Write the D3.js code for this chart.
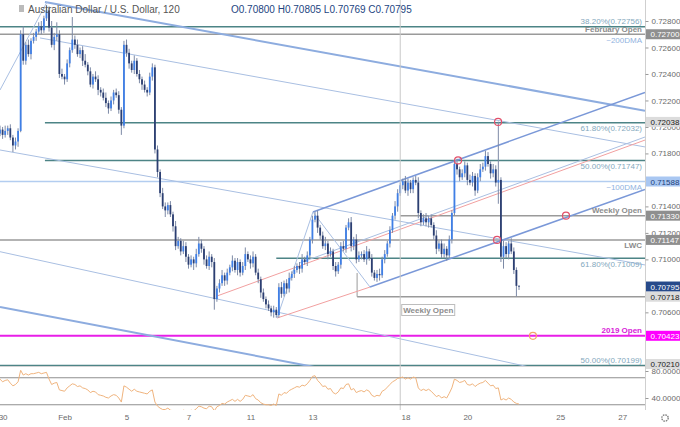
<!DOCTYPE html>
<html>
<head>
<meta charset="utf-8">
<script src="https://d3js.org/d3.v7.min.js"></script>
<style>
    body { margin: 0; background: #fff; }
    svg text { font-family: "Liberation Sans", Arial, sans-serif; }
</style>
</head>
<body>
<svg id="chart" width="680" height="427"></svg>
<script>

    // 2h closes in pips (0.0001), bar 0 = Jan 29 22:00
    var firstOpen = 7195;
    var closes = [
        7198, 7194, 7197, 7199, 7192, 7186, 7189, 7197, 7270, 7250,
        7262, 7255, 7265, 7268, 7272, 7276, 7273, 7282, 7288, 7275,
        7262, 7268, 7270, 7240, 7238, 7236, 7248, 7258, 7266, 7262,
        7255, 7258, 7250, 7247, 7242, 7232, 7238, 7236, 7228, 7226,
        7222, 7218, 7214, 7220, 7226, 7224, 7213, 7201, 7262, 7256,
        7248, 7243, 7250, 7240, 7236, 7232, 7228, 7226, 7238, 7245,
        7183, 7166, 7150, 7140, 7137, 7141, 7134, 7125, 7110, 7114,
        7106, 7110, 7102, 7096, 7100, 7097, 7104, 7112, 7108, 7100,
        7095, 7102, 7098, 7070, 7078, 7082, 7088, 7084, 7090, 7094,
        7099, 7092, 7098, 7090, 7095, 7104, 7100, 7097, 7102, 7090,
        7085, 7075, 7070, 7066, 7063, 7060, 7062, 7058, 7079, 7074,
        7082, 7078, 7086, 7089, 7092, 7095, 7093, 7100, 7098, 7103,
        7115, 7130, 7133, 7124, 7118, 7110, 7112, 7104, 7106, 7095,
        7091, 7096, 7110, 7108, 7124, 7128, 7110, 7115, 7100, 7103,
        7104, 7100, 7106, 7101, 7090, 7086, 7089, 7088, 7100, 7104,
        7112, 7122, 7133, 7140, 7150, 7156, 7159, 7152, 7158, 7153,
        7160, 7158, 7135, 7128, 7131, 7128, 7131, 7126, 7118, 7108,
        7112, 7104, 7108, 7103, 7115, 7135, 7172, 7168, 7162, 7165,
        7171, 7160, 7158, 7163, 7152, 7162, 7168, 7170, 7178, 7172,
        7165, 7168, 7158, 7160, 7102, 7110, 7104, 7112, 7106, 7092,
        7080, 7079.5
    ];
    // wick length above / below the body, pips
    var wickUp = [
        3, 2, 4, 2, 3, 2, 3, 2, 3, 6,   2, 4, 2, 3, 2, 3, 4, 2, 4, 3,
        5, 3, 9, 3, 4, 2, 3, 2, 17, 3,  4, 2, 3, 5, 2, 3, 2, 4, 3, 2,
        3, 4, 2, 3, 2, 3, 3, 2, 3, 4,   3, 2, 4, 2, 3, 2, 3, 2, 3, 3,
        2, 3, 2, 4, 3, 2, 3, 2, 4, 3,   2, 4, 3, 2, 3, 2, 4, 5, 3, 2,
        3, 4, 2, 3, 2, 3, 4, 2, 3, 2,   4, 2, 3, 2, 3, 5, 2, 3, 4, 2,
        3, 2, 3, 2, 3, 2, 3, 2, 3, 4,   2, 3, 4, 2, 3, 2, 3, 4, 2, 3,
        2, 3, 3, 4, 2, 3, 5, 2, 3, 2,   3, 2, 3, 4, 2, 3, 4, 2, 4, 3,
        2, 3, 4, 2, 3, 2, 3, 4, 2, 3,   2, 3, 2, 4, 3, 2, 2, 4, 3, 2,
        2, 3, 4, 2, 3, 4, 2, 3, 2, 4,   2, 3, 4, 2, 3, 2, 3, 4, 2, 3,
        3, 2, 4, 3, 2, 3, 4, 3, 4, 3,   2, 4, 3, 44, 2, 4, 3, 2, 4, 3,
        2, 0.5
    ];
    var wickDn = [
        2, 3, 2, 3, 2, 5, 3, 4, 1, 3,   3, 2, 4, 2, 3, 2, 3, 2, 2, 3,
        2, 4, 3, 3, 2, 4, 2, 3, 2, 3,   2, 3, 4, 2, 3, 2, 3, 2, 4, 3,
        2, 3, 4, 2, 3, 2, 3, 7, 2, 3,   4, 2, 3, 2, 3, 4, 2, 3, 2, 3,
        3, 4, 3, 2, 5, 3, 2, 4, 3, 2,   3, 2, 4, 3, 2, 5, 3, 2, 3, 4,
        2, 3, 4, 8, 2, 3, 2, 4, 3, 2,   3, 2, 4, 3, 2, 3, 2, 4, 3, 2,
        3, 4, 2, 3, 2, 3, 4, 2, 2, 3,   2, 4, 3, 2, 3, 2, 4, 3, 2, 3,
        2, 3, 2, 4, 3, 2, 3, 4, 2, 3,   4, 2, 3, 2, 3, 2, 4, 3, 3, 2,
        3, 2, 4, 2, 3, 2, 3, 4, 2, 3,   2, 3, 2, 3, 4, 2, 3, 2, 4, 3,
        3, 2, 4, 3, 2, 3, 4, 2, 3, 4,   2, 3, 3, 4, 2, 3, 2, 4, 3, 2,
        3, 4, 2, 3, 4, 2, 3, 2, 3, 2,   4, 3, 3, 16, 4, 9, 3, 4, 2, 3,
        8, 2.6
    ];
    var rsi = [
        68, 64, 66, 67, 62, 58, 60, 64, 81, 74,
        76, 74, 76, 76, 77, 78, 76, 77, 78, 68,
        60, 62, 63, 52, 51, 50, 55, 58, 61, 60,
        57, 58, 55, 54, 52, 48, 50, 49, 45, 44,
        43, 41, 40, 43, 45, 44, 40, 34, 58, 56,
        53, 50, 53, 50, 49, 48, 47, 46, 50, 52,
        34, 28, 25, 23, 23, 25, 22, 21, 19, 21,
        20, 22, 21, 20, 22, 21, 24, 28, 27, 25,
        24, 28, 27, 21, 27, 29, 32, 31, 34, 36,
        38, 35, 38, 35, 38, 44, 43, 42, 45, 39,
        37, 33, 31, 30, 30, 29, 31, 29, 46, 44,
        48, 47, 51, 53, 55, 57, 56, 59, 58, 61,
        66, 72, 73, 66, 62, 57, 58, 53, 54, 48,
        46, 49, 55, 54, 60, 61, 52, 54, 48, 50,
        51, 49, 52, 50, 44, 42, 44, 43, 50, 52,
        56, 60, 64, 66, 69, 70, 71, 68, 70, 68,
        71, 70, 55, 51, 53, 51, 53, 50, 46, 42,
        44, 40, 42, 40, 47, 55, 68, 66, 63, 64,
        66, 60, 59, 61, 57, 60, 62, 63, 66, 62,
        58, 59, 54, 55, 37, 39, 37, 40, 38, 34,
        32, 31
    ];

    var dayBars = [1, 25, 49, 73, 97, 121, 157, 181, 217, 241];
    var dayLabels = ["30", "Feb", "5", "7", "11", "13", "18", "20", "25", "27"];
    var priceTicks = [0.728, 0.726, 0.724, 0.722, 0.720, 0.718, 0.714, 0.712, 0.710, 0.706];
    var rsiTicks = [80, 40];
    var rsiBands = [70, 30];
    var weekStartBar = 155;

    // horizontal levels: price, text, kind, first bar, label side
    var levels = [
        {price: 0.72756, text: "38.20%(0.72756)", kind: "fib", from: 0, side: "above"},
        {price: 0.72700, text: "February Open", kind: "open", from: 0, side: "above"},
        {price: 0.72700, text: "~200DMA", kind: "dma", from: null, side: "below"},
        {price: 0.72032, text: "61.80%(0.72032)", kind: "fib", from: 17.4, side: "below"},
        {price: 0.71747, text: "50.00%(0.71747)", kind: "fib", from: 17.4, side: "below"},
        {price: 0.71588, text: "~100DMA", kind: "dma", from: 0, side: "below"},
        {price: 0.71330, text: "Weekly Open", kind: "open", from: weekStartBar, side: "above"},
        {price: 0.71147, text: "LWC", kind: "open", from: 0, side: "below"},
        {price: 0.71009, text: "61.80%(0.71009)", kind: "fib", from: 107, side: "below"},
        {price: 0.70718, text: "", kind: "open", from: 138.3, side: "above"},
        {price: 0.70423, text: "2019 Open", kind: "year", from: 0, side: "above"},
        {price: 0.70199, text: "50.00%(0.70199)", kind: "fib", from: 0, side: "above"}
    ];
    var axisTags = [
        {price: 0.72700, text: "0.72700", kind: "gray"},
        {price: 0.72038, text: "0.72038", kind: "light"},
        {price: 0.71588, text: "0.71588", kind: "dma"},
        {price: 0.71330, text: "0.71330", kind: "gray"},
        {price: 0.71147, text: "0.71147", kind: "gray"},
        {price: 0.70795, text: "0.70795", kind: "last"},
        {price: 0.70718, text: "0.70718", kind: "light"},
        {price: 0.70423, text: "0.70423", kind: "year"},
        {price: 0.70210, text: "0.70210", kind: "light"}
    ];
    // drawn trend lines, [bar, price] end points
    var trendLines = [
        {a: [17.4, 0.72943], b: [249.8, 0.72123], kind: "thick"},
        {a: [15.5, 0.72672], b: [249.8, 0.71849], kind: "thin"},
        {a: [0, 0.71826], b: [249.8, 0.70958], kind: "thin"},
        {a: [0, 0.70640], b: [127.8, 0.70165], kind: "thick"},
        {a: [0, 0.71058], b: [213.8, 0.70150], kind: "thin"},
        {a: [0, 0.72279], b: [18.2, 0.72943], kind: "thin"},
        {a: [121.2, 0.71358], b: [249.8, 0.72260], kind: "fork"},
        {a: [143.3, 0.70791], b: [249.8, 0.71528], kind: "fork"},
        {a: [107.3, 0.70557], b: [143.3, 0.70791], kind: "red"},
        {a: [84.0, 0.70723], b: [249.8, 0.71901], kind: "red"},
        {a: [116.2, 0.70974], b: [249.8, 0.71924], kind: "thin"},
        {a: [107.3, 0.70557], b: [121.2, 0.71358], kind: "thin"},
        {a: [121.2, 0.71358], b: [143.3, 0.70791], kind: "thin"}
    ];
    var markers = [
        {bar: 177.4, price: 0.71747, kind: "red"},
        {bar: 192.9, price: 0.72038, kind: "red"},
        {bar: 192.5, price: 0.71147, kind: "red"},
        {bar: 219.2, price: 0.71330, kind: "red"},
        {bar: 206.4, price: 0.70423, kind: "orange"}
    ];

    var svg = d3.select("#chart"),
        plotR = 645, mainB = 366, rsiT = 367, rsiB = 410;

    var x = d3.scaleLinear().domain([0, 201]).range([0, 519]);
    var y = d3.scaleLinear().domain([0.70210, 0.72800]).range([364, 21]);
    var yr = d3.scaleLinear().domain([40, 80]).range([398, 371]);

    var defs = svg.append("defs");
    defs.append("clipPath").attr("id", "clipMain")
        .append("rect").attr("x", 0).attr("y", 0).attr("width", plotR).attr("height", mainB);
    defs.append("clipPath").attr("id", "clipRsi")
        .append("rect").attr("x", 0).attr("y", rsiT).attr("width", plotR).attr("height", rsiB - rsiT);

    var lineStyle = {
        fib: {stroke: "#4d8486", w: 1.5},
        open: {stroke: "#9a9a9a", w: 1.5},
        dma: {stroke: "#b3cdf0", w: 1.5},
        year: {stroke: "#e81ee8", w: 2}
    };
    var textStyle = {
        fib: {fill: "#83a8bd", weight: "normal"},
        open: {fill: "#8c8c8c", weight: "bold"},
        dma: {fill: "#8fb2e0", weight: "normal"},
        year: {fill: "#d81ad8", weight: "bold"}
    };
    var trendStyle = {
        thick: {stroke: "#8dacdf", w: 2},
        thin: {stroke: "#a9bfe2", w: 1},
        fork: {stroke: "#7a98d8", w: 1.5},
        red: {stroke: "#f2a0a0", w: 1}
    };
    var tagStyle = {
        gray: {bg: "#8f8f8f", fg: "#fff"},
        light: {bg: "#dcdcdc", fg: "#222"},
        dma: {bg: "#a9c7f2", fg: "#1d3f7a"},
        last: {bg: "#274a8a", fg: "#fff"},
        year: {bg: "#ff00ff", fg: "#fff"}
    };

    var main = svg.append("g").attr("clip-path", "url(#clipMain)");

    // week separator
    svg.append("line")
        .attr("x1", x(weekStartBar)).attr("x2", x(weekStartBar))
        .attr("y1", 0).attr("y2", rsiB)
        .attr("stroke", "#c8c8c8").attr("stroke-width", 1);

    // horizontal levels
    levels.forEach(function (d) {
        if (d.from !== null) {
            var ls = lineStyle[d.kind];
            main.append("line")
                .attr("x1", x(d.from)).attr("x2", plotR)
                .attr("y1", y(d.price)).attr("y2", y(d.price))
                .attr("stroke", ls.stroke).attr("stroke-width", ls.w);
        }
    });
    // small box edge of the low marker
    main.append("line")
        .attr("x1", x(138.3)).attr("x2", x(138.3))
        .attr("y1", y(0.70897)).attr("y2", y(0.70718))
        .attr("stroke", "#9a9a9a").attr("stroke-width", 1);

    // trend lines
    trendLines.forEach(function (d) {
        var s = trendStyle[d.kind];
        main.append("line")
            .attr("x1", x(d.a[0])).attr("y1", y(d.a[1]))
            .attr("x2", x(d.b[0])).attr("y2", y(d.b[1]))
            .attr("stroke", s.stroke).attr("stroke-width", s.w);
    });

    // candles
    var bars = closes.map(function (c, i) {
        var o = i === 0 ? firstOpen : closes[i - 1];
        return {
            i: i, o: o / 1e4, c: c / 1e4,
            h: (Math.max(o, c) + wickUp[i]) / 1e4,
            l: (Math.min(o, c) - wickDn[i]) / 1e4
        };
    });
    var candle = main.selectAll(".candle").data(bars).enter().append("g").attr("class", "candle");
    candle.append("line")
        .attr("x1", function (d) { return x(d.i); })
        .attr("x2", function (d) { return x(d.i); })
        .attr("y1", function (d) { return y(d.h); })
        .attr("y2", function (d) { return y(d.l); })
        .attr("stroke", "#7d8aa6").attr("stroke-width", 1);
    candle.append("rect")
        .attr("x", function (d) { return x(d.i) - 0.9; })
        .attr("width", 1.8)
        .attr("y", function (d) { return y(Math.max(d.o, d.c)); })
        .attr("height", function (d) { return Math.max(0.8, Math.abs(y(d.o) - y(d.c))); })
        .attr("fill", function (d) { return d.c >= d.o ? "#3f7fe6" : "#2c3f72"; });

    // circles
    markers.forEach(function (d) {
        main.append("circle")
            .attr("cx", x(d.bar)).attr("cy", y(d.price)).attr("r", 3.5)
            .attr("fill", "none")
            .attr("stroke", d.kind === "red" ? "#e2506a" : "#f4a76a")
            .attr("stroke-width", 1.2);
    });

    // level labels
    levels.forEach(function (d) {
        if (!d.text) return;
        var ts = textStyle[d.kind];
        svg.append("text")
            .attr("x", plotR - 3)
            .attr("y", y(d.price) + (d.side === "above" ? -2.5 : 8.5))
            .attr("text-anchor", "end")
            .attr("font-size", 8)
            .attr("font-weight", ts.weight)
            .attr("fill", ts.fill)
            .text(d.text);
    });

    // weekly open tag on chart
    var wo = svg.append("g").attr("transform", "translate(" + (x(weekStartBar) + 1.5) + ",304.5)");
    wo.append("rect").attr("width", 53).attr("height", 11)
        .attr("fill", "#fff").attr("stroke", "#bdbdbd").attr("stroke-width", 1);
    wo.append("text").attr("x", 26.5).attr("y", 8.3).attr("text-anchor", "middle")
        .attr("font-size", 8).attr("font-weight", "bold").attr("fill", "#8c8c8c").text("Weekly Open");

    // RSI pane
    svg.append("line").attr("x1", 0).attr("x2", plotR).attr("y1", rsiT - 0.5).attr("y2", rsiT - 0.5)
        .attr("stroke", "#d4d4d4");
    var rg = svg.append("g").attr("clip-path", "url(#clipRsi)");
    rsiBands.forEach(function (v) {
        rg.append("line").attr("x1", 0).attr("x2", plotR).attr("y1", yr(v)).attr("y2", yr(v))
            .attr("stroke", "#8f8f8f").attr("stroke-width", 1);
    });
    rg.append("path")
        .datum(rsi)
        .attr("fill", "none")
        .attr("stroke", "#f0b47e")
        .attr("stroke-width", 1)
        .attr("d", d3.line().x(function (d, i) { return x(i); }).y(function (d) { return yr(d); }));

    // price axis
    svg.append("line").attr("x1", plotR + 0.5).attr("x2", plotR + 0.5).attr("y1", 0).attr("y2", rsiB)
        .attr("stroke", "#cfcfcf");
    var yAxis = svg.append("g").attr("transform", "translate(" + (plotR + 0.5) + ",0)")
        .call(d3.axisRight(y).tickValues(priceTicks).tickSize(3).tickFormat(d3.format(".5f")));
    yAxis.select(".domain").remove();
    yAxis.selectAll("line").attr("stroke", "#999");
    yAxis.selectAll("text").attr("font-size", 8).attr("fill", "#6a6a6a")
        .attr("font-family", "Liberation Sans, Arial, sans-serif");

    var rAxis = svg.append("g").attr("transform", "translate(" + (plotR + 0.5) + ",0)")
        .call(d3.axisRight(yr).tickValues(rsiTicks).tickSize(3).tickFormat(d3.format(".4f")));
    rAxis.select(".domain").remove();
    rAxis.selectAll("line").attr("stroke", "#999");
    rAxis.selectAll("text").attr("font-size", 8).attr("fill", "#6a6a6a")
        .attr("font-family", "Liberation Sans, Arial, sans-serif");

    // axis tags
    axisTags.forEach(function (d) {
        var s = tagStyle[d.kind], cy = y(d.price);
        svg.append("rect").attr("x", plotR + 1).attr("y", cy - 5).attr("width", 680 - plotR - 1).attr("height", 10)
            .attr("fill", s.bg);
        svg.append("text").attr("x", plotR + 5.5).attr("y", cy + 3)
            .attr("font-size", 8).attr("fill", s.fg).text(d.text);
    });

    // time axis
    var xAxis = svg.append("g").attr("transform", "translate(0,409)")
        .call(d3.axisBottom(x).tickValues(dayBars).tickSize(0)
            .tickFormat(function (d, i) { return dayLabels[i]; }));
    xAxis.select(".domain").remove();
    xAxis.selectAll("text").attr("font-size", 8).attr("fill", "#6a6a6a").attr("dy", "0.95em")
        .attr("font-family", "Liberation Sans, Arial, sans-serif");

    // settings gear
    svg.append("circle").attr("cx", 665).attr("cy", 418).attr("r", 3.2)
        .attr("fill", "none").attr("stroke", "#777").attr("stroke-width", 1.3)
        .attr("stroke-dasharray", "1.6 0.9");

    // header
    svg.append("rect").attr("x", 19).attr("y", 5).attr("width", 5).attr("height", 7).attr("fill", "#bbb");
    svg.append("text").attr("x", 28).attr("y", 12.5).attr("font-size", 10).attr("fill", "#555")
        .text("Australian Dollar / U.S. Dollar, 120");
    svg.append("text").attr("x", 231).attr("y", 12.5).attr("font-size", 10).attr("fill", "#23457f")
        .text("O0.70800 H0.70805 L0.70769 C0.70795");

</script>
</body>
</html>
